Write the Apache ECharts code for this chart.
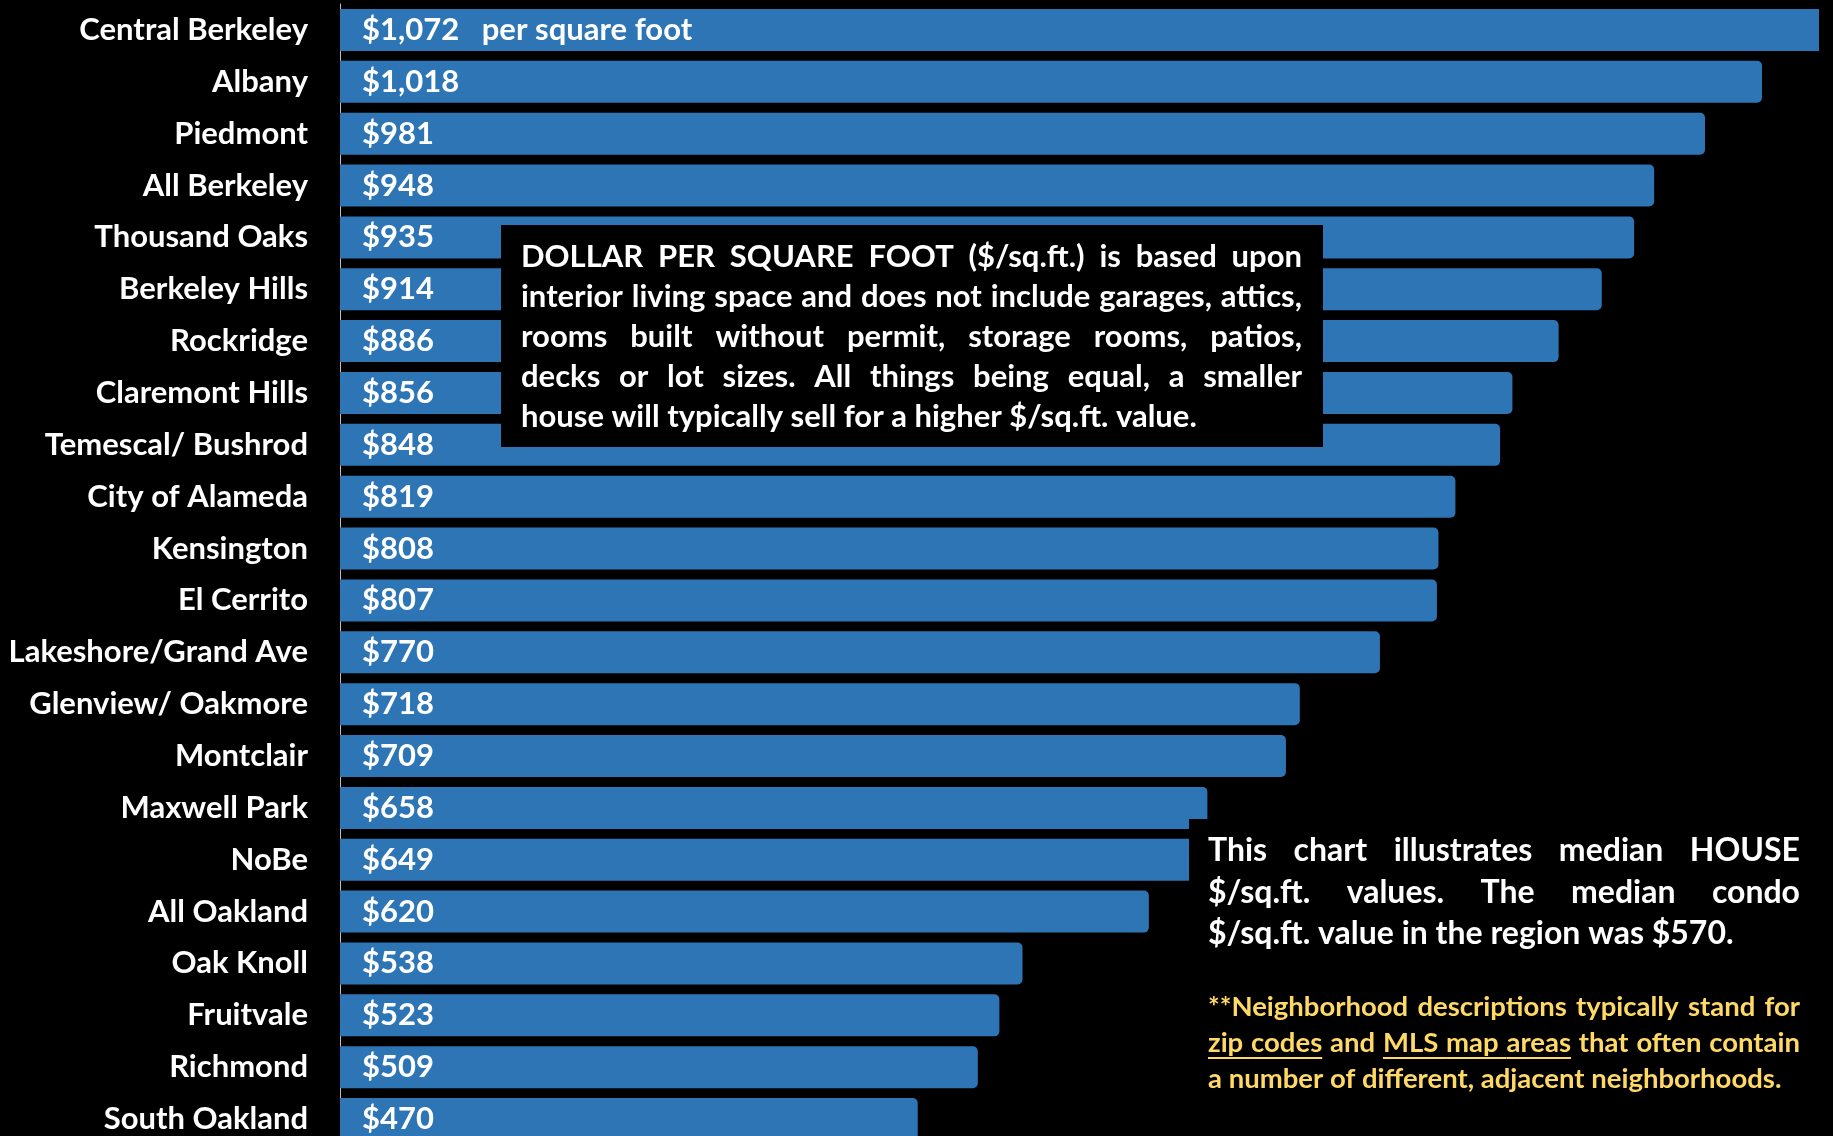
<!DOCTYPE html>
<html>
<head>
<meta charset="utf-8">
<script src="https://cdn.jsdelivr.net/npm/echarts@6/dist/echarts.min.js"></script>
<style>
  html, body { margin: 0; padding: 0; background: #000; }
  #chart { width: 1833px; height: 1136px; }
</style>
</head>
<body>
<div id="chart"></div>
<script>
// Median house price per square foot by neighborhood
const neighborhoods = [
  'Central Berkeley', 'Albany', 'Piedmont', 'All Berkeley', 'Thousand Oaks',
  'Berkeley Hills', 'Rockridge', 'Claremont Hills', 'Temescal/ Bushrod',
  'City of Alameda', 'Kensington', 'El Cerrito', 'Lakeshore/Grand Ave',
  'Glenview/ Oakmore', 'Montclair', 'Maxwell Park', 'NoBe', 'All Oakland',
  'Oak Knoll', 'Fruitvale', 'Richmond', 'South Oakland'
];
const pricePerSqFt = [
  1072, 1018, 981, 948, 935, 914, 886, 856, 848, 819, 808, 807,
  770, 718, 709, 658, 649, 620, 538, 523, 509, 470
];
const firstLabelSuffix = 'per square foot';

const definitionNote = [
  'DOLLAR PER SQUARE FOOT ($/sq.ft.) is based upon',
  'interior living space and does not include garages, attics,',
  'rooms built without permit, storage rooms, patios,',
  'decks or lot sizes. All things being equal, a smaller',
  'house will typically sell for a higher $/sq.ft. value.'
];
const houseNote = [
  'This chart illustrates median HOUSE',
  '$/sq.ft. values. The median condo',
  '$/sq.ft. value in the region was $570.'
];
// words starting with ~ are underlined
const neighborhoodNote = [
  '**Neighborhood descriptions typically stand for',
  '~zip ~codes and ~MLS ~map ~areas that often contain',
  'a number of different, adjacent neighborhoods.'
];

const X_MIN = 95, X_MAX = 1055;
const FONT = 'Lato, "Open Sans", sans-serif';
const BLUE = '#2E75B6';
const GOLD = '#FFD966';

// Justified paragraph built from individual word elements
const measureCtx = document.createElement('canvas').getContext('2d');
function textWidth(t, font) { measureCtx.font = font; return measureCtx.measureText(t).width; }
function paragraph(lines, o) {
  const els = [];
  lines.forEach((line, li) => {
    const words = line.split(' ').map(w => ({ u: w.startsWith('~'), t: w.replace(/^~/, '') }));
    const widths = words.map(w => textWidth(w.t, o.font));
    const total = widths.reduce((a, b) => a + b, 0);
    const last = li === lines.length - 1;
    const gap = (last || words.length < 2) ? textWidth(' ', o.font) : (o.width - total) / (words.length - 1);
    let x = o.x;
    const y = o.y + li * o.lineHeight;
    words.forEach((w, i) => {
      els.push({ type: 'text', x: x, y: y, z: 101,
        style: { text: w.t, font: o.font, fill: o.color, textVerticalAlign: 'middle' } });
      if (w.u) {
        const next = words[i + 1];
        const end = x + widths[i] + (next && next.u ? gap : 0);
        els.push({ type: 'line', z: 101,
          shape: { x1: x, y1: y + o.ul, x2: end, y2: y + o.ul },
          style: { stroke: o.color, lineWidth: 2 } });
      }
      x += widths[i] + gap;
    });
  });
  return els;
}

const barData = pricePerSqFt.map(v => v > X_MAX
  ? { value: v, itemStyle: { borderRadius: 0 } }
  : v);

const graphics = [
  { type: 'rect', z: 100, shape: { x: 501, y: 225, width: 822, height: 222 }, style: { fill: '#000' } },
  { type: 'rect', z: 100, shape: { x: 1189, y: 819, width: 700, height: 400 }, style: { fill: '#000' } }
].concat(
  paragraph(definitionNote, { x: 521, y: 257, width: 781, lineHeight: 40, font: 'bold 31px ' + FONT, color: '#fff' }),
  paragraph(houseNote, { x: 1208, y: 851, width: 592, lineHeight: 41.5, font: 'bold 32px ' + FONT, color: '#fff' }),
  paragraph(neighborhoodNote, { x: 1208, y: 1007, width: 592, lineHeight: 36, font: 'bold 27.5px ' + FONT, color: GOLD, ul: 15 })
);

const chart = echarts.init(document.getElementById('chart'), null, { renderer: 'canvas' });
chart.setOption({
  backgroundColor: '#000',
  animation: false,
  grid: { left: 340, top: 4, right: 14, bottom: -9, containLabel: false, outerBoundsMode: 'none' },
  xAxis: {
    type: 'value', min: X_MIN, max: X_MAX,
    show: false, splitLine: { show: false }
  },
  yAxis: {
    type: 'category', data: neighborhoods, inverse: true,
    axisLine: { show: true, lineStyle: { color: '#BFBFBF', width: 1 } },
    axisTick: { show: false },
    axisLabel: { color: '#fff', fontFamily: FONT, fontWeight: 'bold', fontSize: 31, margin: 32 }
  },
  series: [{
    type: 'bar',
    data: barData,
    barCategoryGap: '19%',
    clip: true,
    itemStyle: { color: BLUE, borderRadius: [0, 5, 5, 0] },
    label: {
      show: true, position: 'insideLeft', distance: 22,
      color: '#fff', fontFamily: FONT, fontWeight: 'bold', fontSize: 31,
      formatter: p => '$' + p.value.toLocaleString('en-US') + (p.dataIndex === 0 ? '   ' + firstLabelSuffix : '')
    }
  }],
  graphic: graphics
});
</script>
</body>
</html>
